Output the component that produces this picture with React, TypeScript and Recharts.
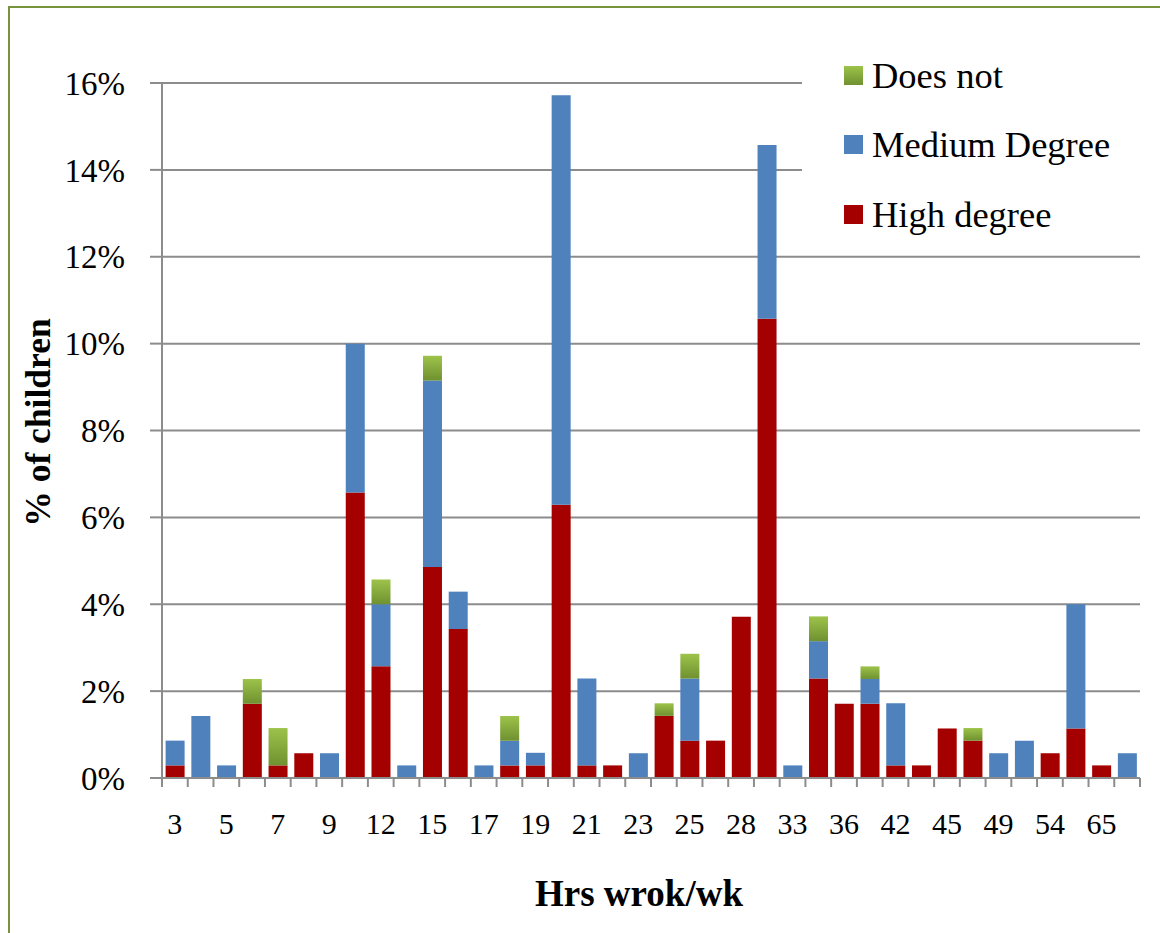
import React from 'react';
import { BarChart, Bar, XAxis, YAxis, CartesianGrid, Legend } from 'recharts';

const categories = ['3', '4', '5', '6', '7', '8', '9', '10', '12', '14', '15', '16', '17', '18', '19', '20', '21', '22', '23', '24', '25', '26', '28', '30', '33', '35', '36', '40', '42', '44', '45', '48', '49', '50', '54', '56', '65', '70'];

const highDegree = [0.29, 0, 0, 1.71, 0.29, 0.57, 0, 6.57, 2.57, 0, 4.86, 3.43, 0, 0.29, 0.29, 6.29, 0.29, 0.29, 0, 1.43, 0.86, 0.86, 3.71, 10.57, 0, 2.29, 1.71, 1.71, 0.29, 0.29, 1.14, 0.86, 0, 0, 0.57, 1.14, 0.29, 0];
const mediumDegree = [0.57, 1.43, 0.29, 0, 0, 0, 0.57, 3.43, 1.43, 0.29, 4.29, 0.86, 0.29, 0.57, 0.29, 9.43, 2.0, 0, 0.57, 0, 1.43, 0, 0, 4.0, 0.29, 0.86, 0, 0.57, 1.43, 0, 0, 0, 0.57, 0.86, 0, 2.86, 0, 0.57];
const doesNot = [0, 0, 0, 0.57, 0.86, 0, 0, 0, 0.57, 0, 0.57, 0, 0, 0.57, 0, 0, 0, 0, 0, 0.29, 0.57, 0, 0, 0, 0, 0.57, 0, 0.29, 0, 0, 0, 0.29, 0, 0, 0, 0, 0, 0];

const yTicks = [0, 2, 4, 6, 8, 10, 12, 14, 16];

const data = categories.map((hrs, i) => ({
  hrs,
  high: highDegree[i],
  medium: mediumDegree[i],
  none: doesNot[i],
}));

const FONT = "'Liberation Serif', 'Times New Roman', serif";
const AXIS_GREY = '#8c8c8c';
const PLOT_WIDTH = 978;
const STEP = PLOT_WIDTH / categories.length;

const XTick = (props: any) => {
  const { x, y, payload, index } = props;
  const left = x - STEP / 2;
  return (
    <g>
      <line x1={left} x2={left} y1={y} y2={y + 9} stroke={AXIS_GREY} strokeWidth={2} />
      {index === categories.length - 1 && (
        <line x1={x + STEP / 2} x2={x + STEP / 2} y1={y} y2={y + 9} stroke={AXIS_GREY} strokeWidth={2} />
      )}
      {index % 2 === 0 && (
        <text x={x} y={y + 56} textAnchor="middle" fontSize={30} style={{ fontFamily: FONT }} fill="#000">
          {payload.value}
        </text>
      )}
    </g>
  );
};

const legendItems = [
  { label: 'Does not', css: 'linear-gradient(#9DC34A, #6F9130)' },
  { label: 'Medium Degree', css: '#4F81BD' },
  { label: 'High degree', css: '#A50000' },
];

const LegendBox = () => (
  <div style={{ position: 'relative', width: 338, height: 210, background: '#fff' }}>
    {legendItems.map((item, i) => (
      <div
        key={item.label}
        style={{
          position: 'absolute',
          left: 42,
          top: 35 + i * 69.5 - 20,
          height: 40,
          display: 'flex',
          alignItems: 'center',
          fontFamily: FONT,
          fontSize: 36.5,
          color: '#000',
          whiteSpace: 'nowrap',
        }}
      >
        <span style={{ display: 'inline-block', width: 19, height: 19, background: item.css, marginRight: 9 }} />
        {item.label}
      </div>
    ))}
  </div>
);

export default function App() {
  return (
    <div style={{ position: 'absolute', left: 0, top: 0, width: 1160, height: 933, background: '#fff', fontFamily: FONT }}>
      <div
        style={{
          position: 'absolute',
          left: 8,
          top: 6,
          width: 1160,
          height: 940,
          borderTop: '2px solid #77933C',
          borderLeft: '2px solid #77933C',
        }}
      />
      <BarChart
        width={1160}
        height={933}
        data={data}
        margin={{ top: 83, right: 20, bottom: 0, left: 0 }}
        barCategoryGap="14%"
        style={{ position: 'absolute', left: 0, top: 0, fontFamily: FONT }}
      >
        <defs>
          <linearGradient id="greenGrad" x1="0" y1="0" x2="0" y2="1">
            <stop offset="0" stopColor="#9DC34A" />
            <stop offset="1" stopColor="#6F9130" />
          </linearGradient>
        </defs>
        <CartesianGrid vertical={false} stroke={AXIS_GREY} strokeWidth={2} />
        <XAxis
          dataKey="hrs"
          interval={0}
          height={155}
          tickSize={0}
          tickMargin={0}
          tickLine={false}
          axisLine={{ stroke: AXIS_GREY, strokeWidth: 2 }}
          tick={<XTick />}
          label={{
            content: ({ viewBox }: any) => (
              <text
                x={viewBox.x + viewBox.width / 2 - 12}
                y={viewBox.y + 128}
                textAnchor="middle"
                fontSize={37}
                fontWeight="bold"
                style={{ fontFamily: FONT }}
                fill="#000"
              >
                Hrs wrok/wk
              </text>
            ),
          }}
        />
        <YAxis
          width={162}
          domain={[0, 16]}
          ticks={yTicks}
          tickFormatter={(v: number) => `${v}%`}
          tickSize={12}
          tickMargin={25}
          tickLine={{ stroke: AXIS_GREY, strokeWidth: 2 }}
          axisLine={{ stroke: AXIS_GREY, strokeWidth: 2 }}
          tick={{ fontSize: 33, fill: '#000', style: { fontFamily: FONT } }}
          label={{
            content: ({ viewBox }: any) => {
              const cx = viewBox.x + 38;
              const cy = viewBox.y + viewBox.height / 2 - 8;
              return (
                <text
                  x={cx}
                  y={cy}
                  transform={`rotate(-90, ${cx}, ${cy})`}
                  textAnchor="middle"
                  dominantBaseline="central"
                  fontSize={35.5}
                  fontWeight="bold"
                  style={{ fontFamily: FONT }}
                  fill="#000"
                >
                  % of children
                </text>
              );
            },
          }}
        />
        <Legend
          layout="vertical"
          align="center"
          verticalAlign="middle"
          content={<LegendBox />}
          wrapperStyle={{ left: 802, top: 40, width: 338, height: 210 }}
        />
        <Bar dataKey="high" name="High degree" stackId="a" fill="#A50000" isAnimationActive={false} />
        <Bar dataKey="medium" name="Medium Degree" stackId="a" fill="#4F81BD" isAnimationActive={false} />
        <Bar dataKey="none" name="Does not" stackId="a" fill="url(#greenGrad)" isAnimationActive={false} />
      </BarChart>
    </div>
  );
}
